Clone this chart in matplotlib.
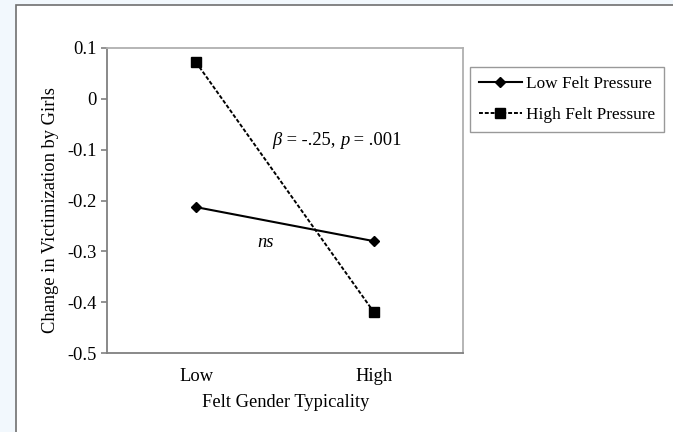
import matplotlib.pyplot as plt
from matplotlib.patches import Rectangle

plt.rcParams['font.family'] = ['Liberation Serif', 'DejaVu Serif']

# data
categories = ['Low', 'High']
low_pressure = [-0.213, -0.280]
high_pressure = [0.072, -0.420]
y_ticks = [0.1, 0, -0.1, -0.2, -0.3, -0.4, -0.5]
y_tick_labels = ['0.1', '0', '-0.1', '-0.2', '-0.3', '-0.4', '-0.5']

fig = plt.figure(figsize=(6.73, 4.32), dpi=100)
fig.patch.set_facecolor('#f2f8fd')
# white chart panel with grey edge
panel = Rectangle((16 / 673, -0.01), 1.0, 1 - 5 / 432 + 0.01,
                  transform=fig.transFigure, facecolor='white',
                  edgecolor='#707070', linewidth=1.2, zorder=-10)
fig.add_artist(panel)

ax = fig.add_axes([107 / 673, 1 - 353 / 432, 356 / 673, 305 / 432])
ax.set_zorder(1)
ax.set_facecolor('white')

x = [1, 2]
ax.plot(x, low_pressure, color='black', linewidth=1.5, marker='D',
        markersize=5, label='Low Felt Pressure', zorder=3)
ax.plot(x, high_pressure, color='black', linewidth=1.4, linestyle=(0, (2, 1)),
        marker='s', markersize=7, label='High Felt Pressure', zorder=3)

ax.set_xlim(0.5, 2.5)
ax.set_ylim(-0.5, 0.1)
ax.set_xticks(x)
ax.set_xticklabels(categories, fontsize=13.3)
ax.set_yticks(y_ticks)
ax.set_yticklabels(y_tick_labels, fontsize=13.3)
ax.tick_params(axis='x', length=0, pad=10.5)
ax.tick_params(axis='y', length=4, width=1.2, color='#808080', pad=3.5, direction='out')

for side in ['top', 'right']:
    ax.spines[side].set_color('#b0b0b0')
    ax.spines[side].set_linewidth(1.3)
for side in ['left', 'bottom']:
    ax.spines[side].set_color('#808080')
    ax.spines[side].set_linewidth(1.3)

ax.set_ylabel('Change in Victimization by Girls', fontsize=13.3)
ax.yaxis.set_label_coords(-0.135, 0.47)
ax.set_xlabel('Felt Gender Typicality', fontsize=13.3)
ax.xaxis.set_label_coords(0.503, -0.135)

# annotation with italic beta and p
t1 = ax.text(1.43, -0.081, 'β', fontsize=13.3, va='center', ha='left', style='italic')
t2 = ax.annotate(' = -.25, ', xy=(1, 0.5), xycoords=t1, fontsize=13.3, va='center', ha='left')
t3 = ax.annotate('p', xy=(1, 0.5), xycoords=t2, fontsize=13.3, va='center', ha='left', style='italic')
ax.annotate(' = .001', xy=(1, 0.5), xycoords=t3, fontsize=13.3, va='center', ha='left')
ax.text(1.393, -0.282, 'ns', fontsize=13.3, style='italic', va='center', ha='center')

leg = fig.legend(loc='upper left', bbox_to_anchor=(470 / 673, 1 - 67 / 432),
                 fontsize=12.4, frameon=True, fancybox=False, edgecolor='#808080',
                 handlelength=2.5, handletextpad=0.25, labelspacing=0.9,
                 borderpad=0.5, borderaxespad=0)
leg.get_frame().set_linewidth(1.0)
leg.set_zorder(2)

fig.savefig('out.png', dpi=100, facecolor=fig.get_facecolor())
